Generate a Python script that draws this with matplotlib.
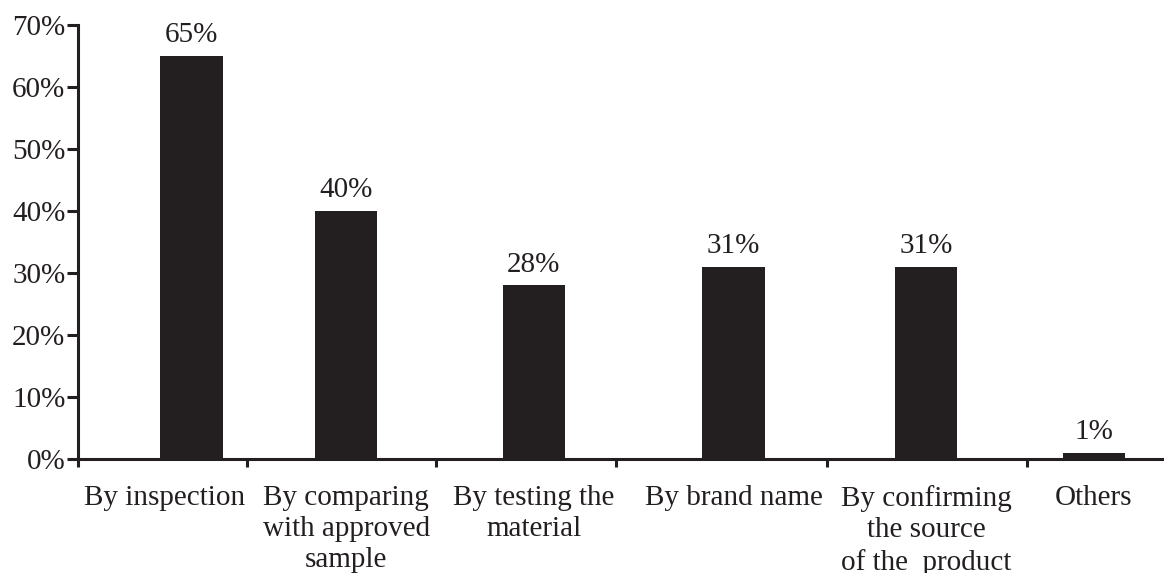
import matplotlib
matplotlib.use("Agg")
import matplotlib.pyplot as plt
import matplotlib.transforms as mtransforms

categories = [
    "By inspection",
    "By comparing\nwith approved\nsample",
    "By testing the\nmaterial",
    "By brand name",
    "By confirming\nthe source\nof the  product",
    "Others",
]
values = [65, 40, 28, 31, 31, 1]
y_ticks = [0, 10, 20, 30, 40, 50, 60, 70]

# slot centres and slot boundaries along the x axis
centers = [0.63, 1.49, 2.53, 3.64, 4.71, 5.64]
bounds = [0.0, 0.94, 1.99, 2.99, 4.16, 5.27]
x_max = 6.03

ink = "#231f20"
plt.rcParams["font.family"] = ["Liberation Serif", "DejaVu Serif"]
plt.rcParams["font.size"] = 21

fig = plt.figure(figsize=(11.64, 5.73), dpi=100)
ax = fig.add_axes([0.067, 0.199, 0.933, 0.757])

ax.bar(centers, values, width=0.345, color=ink, zorder=3)
for x, v in zip(centers, values):
    ax.annotate(f"{v}%", (x, v), xytext=(0, 10), textcoords="offset points",
                ha="center", va="baseline", color=ink)

ax.set_xlim(0, x_max)
ax.set_ylim(0, 70)
ax.set_yticks(y_ticks)
ax.set_yticklabels([f"{t}%" for t in y_ticks])

ax.set_xticks(bounds)
ax.set_xticklabels([])
ax.set_xticks(centers, minor=True)
ax.set_xticklabels(categories, minor=True, linespacing=1.25, va="top")

ax.tick_params(axis="y", direction="out", length=8, width=2.2, pad=1, colors=ink)
ax.tick_params(axis="x", which="major", direction="out", length=6, width=2.2, colors=ink)
ax.tick_params(axis="x", which="minor", length=0, pad=19, colors=ink)

# first label sits left of its bar so it does not run into the next one
first = ax.xaxis.get_minorticklabels()[0]
first.set_transform(first.get_transform() +
                    mtransforms.ScaledTranslation(-0.265, 0, fig.dpi_scale_trans))

for side in ("top", "right"):
    ax.spines[side].set_visible(False)
for side in ("left", "bottom"):
    ax.spines[side].set_linewidth(2.2)
    ax.spines[side].set_color(ink)

fig.savefig("out.png", dpi=100)
